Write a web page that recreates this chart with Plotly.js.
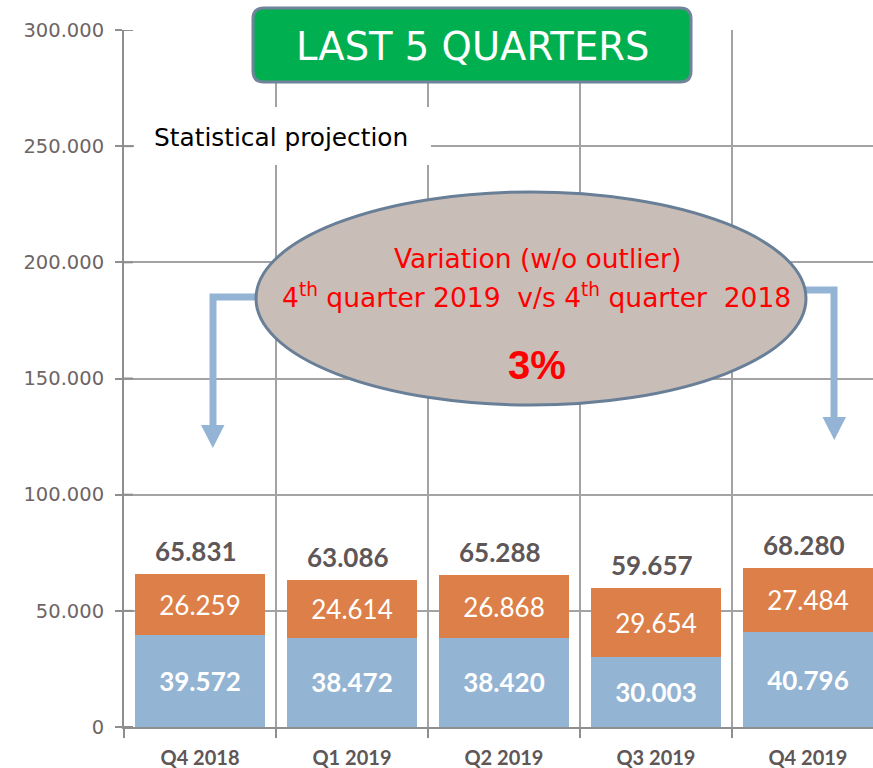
<!DOCTYPE html>
<html>
<head>
<meta charset="utf-8">
<script src="https://cdn.plot.ly/plotly-3.0.1.min.js"></script>
<style>
html,body{margin:0;padding:0;background:#fff;overflow:hidden;}
#chart{width:873px;height:768px;}
</style>
</head>
<body>
<div id="chart"></div>
<script>
// ---- data ----
const categories = ['Q4 2018', 'Q1 2019', 'Q2 2019', 'Q3 2019', 'Q4 2019'];
const lowerSeries = [39572, 38472, 38420, 30003, 40796];
const upperSeries = [26259, 24614, 26868, 29654, 27484];
const totals = [65831, 63086, 65288, 59657, 68280];
const titleText = 'LAST 5 QUARTERS';
const noteText = 'Statistical projection';
const bubbleLine1 = 'Variation (w/o outlier)';
const bubbleLine2 = '4<sup>th</sup> quarter 2019  v/s 4<sup>th</sup> quarter  2018';
const bubbleValue = '3%';

// ---- helpers ----
const W = 873, H = 768;
const M = {l: 124, r: 0, t: 30, b: 41};
const PW = W - M.l - M.r, PH = H - M.t - M.b;
const fx = x => (x - M.l) / PW;
const fy = y => (H - M.b - y) / PH;
const fmt = v => String(v).replace(/\B(?=(\d{3})+(?!\d))/g, '.');

function roundRect(x0, y0, x1, y1, r) {
  const X = fx, Y = fy;
  return 'M' + X(x0 + r) + ',' + Y(y0) +
    ' L' + X(x1 - r) + ',' + Y(y0) +
    ' Q' + X(x1) + ',' + Y(y0) + ' ' + X(x1) + ',' + Y(y0 + r) +
    ' L' + X(x1) + ',' + Y(y1 - r) +
    ' Q' + X(x1) + ',' + Y(y1) + ' ' + X(x1 - r) + ',' + Y(y1) +
    ' L' + X(x0 + r) + ',' + Y(y1) +
    ' Q' + X(x0) + ',' + Y(y1) + ' ' + X(x0) + ',' + Y(y1 - r) +
    ' L' + X(x0) + ',' + Y(y0 + r) +
    ' Q' + X(x0) + ',' + Y(y0) + ' ' + X(x0 + r) + ',' + Y(y0) + ' Z';
}
function poly(pts, close) {
  return pts.map((p, i) => (i ? 'L' : 'M') + fx(p[0]) + ',' + fy(p[1])).join(' ') + (close ? ' Z' : '');
}

const BLUE = '#93b4d3', ORANGE = '#dd7f48', GRID = '#a3a3a3', AXIS = '#8f8f8f';
const CG = "'DejaVu Sans', sans-serif";
const CAL = "Lato, 'Open Sans', sans-serif";
const ARROW = '#93b4d4';

const traces = [
  {
    type: 'bar', x: categories, y: lowerSeries,
    marker: {color: BLUE},
    text: lowerSeries.map(fmt), textposition: 'inside', insidetextanchor: 'middle',
    textangle: 0, constraintext: 'none',
    textfont: {family: CAL, size: 26, color: '#ffffff', weight: 'bold'},
    hoverinfo: 'x+y'
  },
  {
    type: 'bar', x: categories, y: upperSeries,
    marker: {color: ORANGE},
    text: upperSeries.map(fmt), textposition: 'inside', insidetextanchor: 'middle',
    textangle: 0, constraintext: 'none',
    textfont: {family: CAL, size: 26, color: '#ffffff'},
    hoverinfo: 'x+y'
  }
];

const annotations = totals.map((t, i) => ({
  x: categories[i], y: t, xref: 'x', yref: 'y',
  text: fmt(t), showarrow: false, yanchor: 'middle', yshift: 23, xshift: -4,
  font: {family: CAL, size: 26, color: '#5e5657', weight: 'bold'}
}));

annotations.push(
  {xref: 'paper', yref: 'paper', x: fx(472), y: fy(46), text: titleText, showarrow: false,
   xanchor: 'center', yanchor: 'middle', font: {family: CG, size: 38.5, color: '#ffffff'}},
  {xref: 'paper', yref: 'paper', x: fx(281), y: fy(137), text: noteText, showarrow: false,
   xanchor: 'center', yanchor: 'middle', font: {family: CG, size: 24.8, color: '#000000'}},
  {xref: 'paper', yref: 'paper', x: fx(537), y: fy(258), text: bubbleLine1, showarrow: false,
   xanchor: 'center', yanchor: 'middle', font: {family: CG, size: 26.5, color: '#ff0000'}},
  {xref: 'paper', yref: 'paper', x: fx(536), y: fy(296), text: bubbleLine2, showarrow: false,
   xanchor: 'center', yanchor: 'middle', font: {family: CG, size: 26.5, color: '#ff0000'}},
  {xref: 'paper', yref: 'paper', x: fx(537), y: fy(365), text: bubbleValue, showarrow: false,
   xanchor: 'center', yanchor: 'middle', font: {family: "'Liberation Sans', Arial, sans-serif", size: 40, color: '#ff0000', weight: 'bold'}}
);

const shapes = [
  // white backing behind the note
  {type: 'rect', xref: 'paper', yref: 'paper', x0: fx(134), x1: fx(431), y0: fy(165), y1: fy(107),
   fillcolor: '#ffffff', line: {width: 0}, layer: 'above'},
  // short inner parts of the y-axis tick marks (ticks cross the axis)
  ...[0, 50000, 100000, 150000, 200000, 250000, 300000].map(v => ({
    type: 'line', xref: 'paper', yref: 'y', x0: fx(124), x1: fx(133), y0: v, y1: v,
    line: {color: AXIS, width: 2}, layer: 'above'
  })),
  // arrows
  {type: 'path', xref: 'paper', yref: 'paper', path: poly([[258, 297], [213, 297], [213, 428]], false),
   line: {color: ARROW, width: 7}, layer: 'above'},
  {type: 'path', xref: 'paper', yref: 'paper', path: poly([[201, 425], [224.5, 425], [212.8, 448]], true),
   fillcolor: ARROW, line: {width: 0}, layer: 'above'},
  {type: 'path', xref: 'paper', yref: 'paper', path: poly([[804, 290], [834, 290], [834, 420]], false),
   line: {color: ARROW, width: 7}, layer: 'above'},
  {type: 'path', xref: 'paper', yref: 'paper', path: poly([[822.5, 417], [846, 417], [834.3, 440]], true),
   fillcolor: ARROW, line: {width: 0}, layer: 'above'},
  // ellipse
  {type: 'circle', xref: 'paper', yref: 'paper', x0: fx(256), x1: fx(806), y0: fy(405), y1: fy(192),
   fillcolor: '#c9bdb7', line: {color: '#687f97', width: 3}, layer: 'above'},
  // title box
  {type: 'path', xref: 'paper', yref: 'paper', path: roundRect(253, 8, 691, 82, 11),
   fillcolor: '#00b050', line: {color: '#6f839a', width: 3}, layer: 'above'}
];

const layout = {
  width: W, height: H,
  margin: M,
  paper_bgcolor: '#ffffff', plot_bgcolor: '#ffffff',
  barmode: 'stack', bargap: 0.15, showlegend: false,
  separators: ',.',
  xaxis: {
    type: 'category', range: [-0.5, 4.428], tickson: 'boundaries',
    showgrid: true, gridcolor: GRID, gridwidth: 2,
    showline: true, linecolor: AXIS, linewidth: 2,
    ticks: 'outside', ticklen: 9, tickcolor: AXIS, tickwidth: 2,
    ticklabelstandoff: 12,
    tickfont: {family: CAL, size: 20, color: '#5e5657', weight: 'bold'},
    zeroline: false, fixedrange: true
  },
  yaxis: {
    range: [0, 300000], dtick: 50000, tickformat: ',d',
    showgrid: true, gridcolor: GRID, gridwidth: 2,
    showline: true, linecolor: AXIS, linewidth: 2,
    ticks: 'outside', ticklen: 7, tickcolor: AXIS, tickwidth: 2,
    ticklabelstandoff: 7,
    tickfont: {family: CG, size: 19.5, color: '#6e6566'},
    zeroline: false, fixedrange: true
  },
  shapes: shapes,
  annotations: annotations
};

Plotly.newPlot('chart', traces, layout, {displayModeBar: false, staticPlot: true});
</script>
</body>
</html>
